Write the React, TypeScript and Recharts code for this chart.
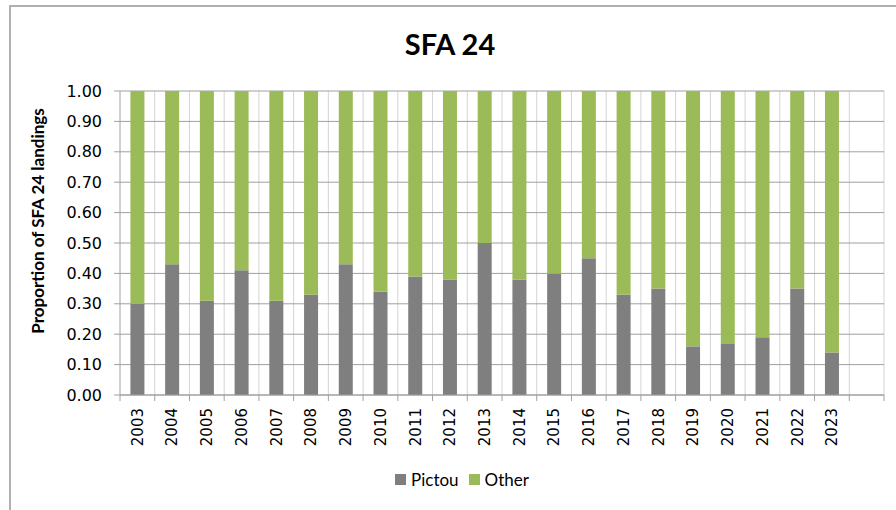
import React from 'react';
import { BarChart, Bar, XAxis, YAxis, CartesianGrid } from 'recharts';

// years, plus one empty slot at the end like the original Excel chart
const years = ['2003', '2004', '2005', '2006', '2007', '2008', '2009', '2010', '2011', '2012', '2013',
    '2014', '2015', '2016', '2017', '2018', '2019', '2020', '2021', '2022', '2023', ''];
const pictou = [0.30, 0.43, 0.31, 0.41, 0.31, 0.33, 0.43, 0.34, 0.39, 0.38, 0.50,
    0.38, 0.40, 0.45, 0.33, 0.35, 0.16, 0.17, 0.19, 0.35, 0.14, null];
const other = [0.70, 0.57, 0.69, 0.59, 0.69, 0.67, 0.57, 0.66, 0.61, 0.62, 0.50,
    0.62, 0.60, 0.55, 0.67, 0.65, 0.84, 0.83, 0.81, 0.65, 0.86, null];
const yTicks = [0, 0.1, 0.2, 0.3, 0.4, 0.5, 0.6, 0.7, 0.8, 0.9, 1.0];
const seriesNames = ['Pictou', 'Other'];

const data = years.map((year, i) => ({ year, Pictou: pictou[i], Other: other[i] }));

const GRAY = '#7f7f7f';
const GREEN = '#9bbb59';
const AXIS = '#a0a0a0';

const PLOT_LEFT = 120;
const PLOT_RIGHT = 12;
const CHART_W = 896;
const band = (CHART_W - PLOT_LEFT - PLOT_RIGHT) / years.length;

// x tick: rotated year + small tick mark on the category boundary (Excel style)
function YearTick(props: any) {
    const { x, y, payload, index } = props;
    const left = x - band / 2;
    return (
        <g>
            <line x1={left} x2={left} y1={y - 8} y2={y - 2} stroke={AXIS} />
            {index === years.length - 1 && (
                <line x1={left + band} x2={left + band} y1={y - 8} y2={y - 2} stroke={AXIS} />
            )}
            <text
                x={x}
                y={y + 5}
                dy="0.36em"
                transform={`rotate(-90 ${x} ${y + 5})`}
                textAnchor="end"
                fill="#000"
                fontSize={15}
                fontFamily="DejaVu Sans"
            >
                {payload.value}
            </text>
        </g>
    );
}

function LegendBox() {
    const colors = [GRAY, GREEN];
    return (
        <div style={{ display: 'flex', justifyContent: 'center', gap: 10, fontFamily: 'Lato', fontSize: 17 }}>
            {seriesNames.map((name, i) => (
                <div key={name} style={{ display: 'flex', alignItems: 'center' }}>
                    <span style={{ width: 11, height: 11, background: colors[i], display: 'inline-block', marginRight: 5 }} />
                    <span style={{ color: '#000' }}>{name}</span>
                </div>
            ))}
        </div>
    );
}

export default function App() {
    return (
        <div style={{ position: 'absolute', left: 0, top: 0, width: 896, height: 510, overflow: 'hidden', background: '#fff' }}>
            {/* chart frame, runs off the right and bottom like the screenshot */}
            <div style={{ position: 'absolute', left: 9, top: 5, width: 920, height: 540, border: '2px solid #b0b0b0' }} />
            <div style={{ position: 'absolute', left: 0, top: 26, width: 900, textAlign: 'center', fontFamily: 'Lato', fontWeight: 700, fontSize: 29, color: '#000' }}>
                SFA 24
            </div>
            <div style={{ position: 'absolute', left: 0, top: 0 }}>
                <BarChart
                    width={CHART_W}
                    height={510}
                    data={data}
                    margin={{ top: 91, right: PLOT_RIGHT, left: 0, bottom: 60 }}
                    barCategoryGap="30%"
                >
                    <CartesianGrid
                        horizontal={false}
                        stroke="#d4d4d4"
                        verticalCoordinatesGenerator={({ offset }: any) =>
                            years.map((_, i) => offset.left + (i + 1) * (offset.width / years.length))
                        }
                    />
                    <CartesianGrid vertical={false} stroke={AXIS} />
                    <XAxis
                        dataKey="year"
                        interval={0}
                        height={55}
                        tickLine={false}
                        axisLine={{ stroke: AXIS }}
                        tick={<YearTick />}
                    />
                    <YAxis
                        width={PLOT_LEFT}
                        domain={[0, 1]}
                        ticks={yTicks}
                        interval={0}
                        tickFormatter={(v: number) => v.toFixed(2)}
                        axisLine={{ stroke: AXIS }}
                        tickLine={{ stroke: AXIS }}
                        tickSize={6}
                        tickMargin={12}
                        tick={{ fill: '#000', fontSize: 16, fontFamily: 'DejaVu Sans' }}
                        label={{
                            content: () => (
                                <text
                                    x={38}
                                    y={221}
                                    transform="rotate(-90 38 221)"
                                    textAnchor="middle"
                                    dy="0.35em"
                                    fontFamily="Lato"
                                    fontWeight={700}
                                    fontSize={17}
                                    fill="#000"
                                >
                                    Proportion of SFA 24 landings
                                </text>
                            ),
                        }}
                    />
                    <Bar dataKey="Pictou" stackId="a" fill={GRAY} isAnimationActive={false} />
                    <Bar dataKey="Other" stackId="a" fill={GREEN} isAnimationActive={false} />
                </BarChart>
            </div>
            <div style={{ position: 'absolute', left: 12, top: 469, width: 900 }}>
                <LegendBox />
            </div>
        </div>
    );
}
